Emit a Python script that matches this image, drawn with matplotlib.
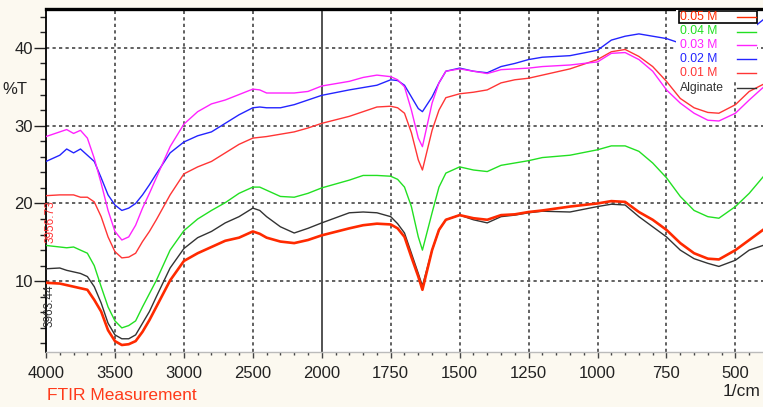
import numpy as np
import matplotlib

matplotlib.use("Agg")
import matplotlib.pyplot as plt
from matplotlib.lines import Line2D
from matplotlib.patches import Rectangle
from matplotlib.ticker import FixedLocator, MultipleLocator

plt.rcParams["font.family"] = ["Liberation Sans", "DejaVu Sans"]

# wavenumbers (1/cm)
wn = [4000, 3900, 3850, 3800, 3750, 3700, 3650, 3600, 3550, 3500, 3450,
      3400, 3350, 3300, 3250, 3200, 3100, 3000, 2900, 2800, 2700, 2600,
      2500, 2450, 2400, 2300, 2200, 2100, 2000, 1900, 1850, 1800, 1750,
      1725, 1700, 1675, 1650, 1635, 1600, 1575, 1550, 1500, 1450, 1400,
      1350, 1300, 1250, 1200, 1100, 1000, 950, 900, 850, 800, 750, 700,
      650, 600, 560, 500, 450, 400]

# %T for each sample
t_005 = [9.8, 9.7, 9.5, 9.3, 9.1, 8.9, 7.6, 6.1, 3.7, 2.3, 1.8,
         1.9, 2.3, 3.5, 5.0, 6.7, 10.1, 12.6, 13.6, 14.4, 15.2, 15.6,
         16.4, 16.1, 15.6, 15.1, 14.9, 15.3, 15.9, 16.8, 17.2, 17.4, 17.3,
         16.8, 15.7, 13.1, 10.6, 8.9, 14.0, 16.6, 17.9, 18.5, 18.1, 17.9,
         18.5, 18.6, 18.9, 19.1, 19.6, 20.0, 20.3, 20.2, 18.9, 17.9, 16.6, 14.9,
         13.6, 12.9, 12.8, 14.0, 15.3, 16.6]
t_004 = [14.6, 14.4, 14.3, 14.4, 14.0, 13.6, 12.0, 9.3, 6.7, 4.9, 4.0,
         4.3, 4.9, 6.7, 8.4, 10.1, 14.0, 16.5, 18.0, 19.1, 20.1, 21.3,
         22.1, 22.1, 21.7, 20.9, 20.8, 21.3, 22.0, 23.0, 23.6, 23.6, 23.5,
         23.1, 22.1, 19.6, 15.7, 14.0, 18.8, 22.1, 23.9, 24.7, 24.3, 24.1,
         24.9, 25.2, 25.5, 25.9, 26.2, 26.9, 27.4, 27.4, 26.7, 25.2, 23.3, 20.9,
         19.1, 18.3, 18.1, 19.6, 21.3, 23.4]
t_003 = [28.6, 29.2, 29.5, 29.0, 29.4, 28.4, 25.8, 22.6, 19.1, 16.4, 15.3,
         15.7, 17.2, 19.4, 21.3, 23.3, 27.3, 30.2, 31.8, 32.8, 33.3, 34.0,
         34.7, 34.6, 34.2, 34.2, 34.2, 34.4, 35.1, 35.7, 36.2, 36.5, 36.3,
         35.9, 35.0, 32.0, 28.4, 27.3, 32.9, 35.5, 37.0, 37.3, 37.0, 36.7,
         37.2, 37.3, 37.4, 37.6, 37.8, 38.2, 39.3, 39.4, 38.5, 37.0, 34.6, 32.9,
         31.6, 30.7, 30.6, 31.6, 33.3, 34.9]
t_002 = [25.4, 26.2, 27.0, 26.5, 27.0, 26.2, 25.4, 23.3, 21.1, 19.8, 19.1,
         19.4, 20.0, 21.1, 22.4, 23.8, 26.5, 27.9, 28.7, 29.2, 30.3, 31.4,
         32.3, 32.4, 32.3, 32.3, 32.7, 33.3, 33.9, 34.6, 34.9, 35.2, 35.9,
         35.8, 35.2, 33.7, 32.2, 31.8, 33.7, 35.5, 37.0, 37.4, 37.0, 36.8,
         37.6, 38.0, 38.5, 38.8, 39.0, 39.7, 41.0, 41.5, 41.8, 41.5, 41.2, 40.6,
         40.0, 39.7, 39.8, 40.8, 42.2, 43.6]
t_001 = [21.0, 21.1, 21.1, 21.1, 20.8, 20.8, 20.2, 18.3, 15.7, 13.8, 13.0,
         13.1, 13.6, 15.1, 16.4, 17.9, 21.1, 23.8, 24.7, 25.4, 26.5, 27.6,
         28.4, 28.5, 28.6, 28.9, 29.2, 29.7, 30.3, 31.2, 31.8, 32.4, 32.5,
         32.3, 31.6, 29.1, 25.6, 24.3, 29.4, 32.0, 33.6, 34.1, 34.3, 34.6,
         35.5, 35.9, 36.1, 36.5, 37.3, 38.5, 39.5, 39.8, 38.9, 37.6, 35.7, 33.5,
         32.3, 31.7, 31.6, 32.7, 34.4, 35.3]
t_alg = [11.6, 11.7, 11.4, 11.2, 11.0, 10.6, 9.3, 7.2, 4.6, 3.1, 2.6,
         2.6, 3.1, 4.6, 6.1, 8.0, 11.7, 14.2, 15.6, 16.4, 17.5, 18.3,
         19.4, 19.1, 18.3, 17.0, 16.2, 16.8, 17.5, 18.8, 18.9, 18.8, 18.3,
         17.4, 16.2, 13.6, 11.0, 9.4, 14.0, 16.6, 17.9, 18.5, 17.9, 17.5,
         18.3, 18.5, 18.8, 19.0, 18.9, 19.6, 19.9, 19.8, 18.3, 17.0, 15.7, 14.0,
         12.9, 12.3, 11.9, 12.7, 14.0, 14.6]

labels = ["0.05 M", "0.04 M", "0.03 M", "0.02 M", "0.01 M", "Alginate"]
colors = ["#ff2a00", "#22e022", "#ff22ff", "#2424ff", "#ff3535", "#333333"]
widths = [1.9, 1.0, 1.0, 1.0, 1.0, 1.0]
curves = [t_005, t_004, t_003, t_002, t_001, t_alg]

x_major = [4000, 3500, 3000, 2500, 2000, 1750, 1500, 1250, 1000, 750, 500]
y_major = [10, 20, 30, 40]


def forward(x):
    x = np.asarray(x, dtype=float)
    return np.where(x <= 2000, x, 2000 + (x - 2000) / 2.0)


def inverse(u):
    u = np.asarray(u, dtype=float)
    return np.where(u <= 2000, u, 2000 + (u - 2000) * 2.0)


fig = plt.figure(figsize=(7.63, 4.07), dpi=100, facecolor="#fcf9f0")
ax = fig.add_axes([46 / 763, 55 / 407, 717 / 763, 343 / 407])
ax.set_facecolor("white")
ax.set_xscale("function", functions=(forward, inverse))
ax.set_xlim(4000, 400)
ax.set_ylim(0.9, 45.0)

# curves, back to front
for values, color, lw in list(zip(curves, colors, widths))[::-1]:
    ax.plot(wn, values, color=color, lw=lw, zorder=3)

# grid
dash = (0, (1.8, 1.8))
for x in x_major[1:]:
    if x == 2000:
        ax.axvline(x, color="#444444", lw=1.3, zorder=1)
    else:
        ax.axvline(x, color="#555555", lw=1.3, ls=dash, zorder=1)
for y in y_major:
    ax.axhline(y, color="#555555", lw=1.3, ls=dash, zorder=1)

# ticks
x_minor = [x for x in range(3900, 2000, -100) if x % 500] + \
          [x for x in range(1950, 400, -50) if x % 250]
ax.xaxis.set_major_locator(FixedLocator(x_major))
ax.xaxis.set_minor_locator(FixedLocator(x_minor))
ax.xaxis.set_major_formatter(matplotlib.ticker.FuncFormatter(lambda v, p: f"{v:.0f}"))
ax.yaxis.set_major_locator(FixedLocator(y_major))
ax.yaxis.set_minor_locator(MultipleLocator(2))
ax.tick_params(axis="x", which="major", length=4, width=1, color="#444444",
               pad=6, labelsize=12, labelcolor="#222222")
ax.tick_params(axis="x", which="minor", length=2.5, width=1, color="#444444")
ax.tick_params(axis="y", which="major", length=8.5, width=1, color="#222222",
               pad=1, labelsize=12, labelcolor="#222222")
ax.tick_params(axis="y", which="minor", length=4.5, width=1, color="#222222")

ax.spines["right"].set_visible(False)
ax.spines["top"].set_linewidth(2.4)
ax.spines["top"].set_color("black")
ax.spines["left"].set_linewidth(1.3)
ax.spines["left"].set_color("black")
ax.spines["bottom"].set_linewidth(1.0)
ax.spines["bottom"].set_color("#bbbbbb")

# cursor readouts at the left edge
fig.text(51 / 763, 1 - 222 / 407, "3956.73", rotation=90, color="#ff3535",
         fontsize=8.5, ha="center", va="center")
fig.text(50 / 763, 1 - 306 / 407, "3963.44", rotation=90, color="#333333",
         fontsize=8.5, ha="center", va="center")

# axis captions
fig.text(15 / 763, 1 - 90 / 407, "%T", fontsize=12, color="#222222",
         ha="center", va="center")
fig.text(47 / 763, 1 - 395 / 407, "FTIR Measurement", fontsize=12.5,
         color="#ff3a1a", ha="left", va="center")
fig.text(761 / 763, 1 - 392 / 407, "1/cm", fontsize=12.5, color="#222222",
         ha="right", va="center")


def ax_x(px):
    return (px - 46) / 717


def ax_y(py):
    return (352 - py) / 343


# legend, drawn by hand so the keys line up on the right
ax.add_patch(Rectangle((ax_x(676), ax_y(80)), ax_x(757) - ax_x(676),
                       ax_y(10) - ax_y(80), transform=ax.transAxes,
                       facecolor="white", edgecolor="none", zorder=5))
ax.add_patch(Rectangle((ax_x(679), ax_y(23)), ax_x(757) - ax_x(679),
                       ax_y(11) - ax_y(23), transform=ax.transAxes,
                       facecolor="none", edgecolor="black", lw=1.2, zorder=6))
rows = [16.5, 31.5, 45, 59, 73, 87.5]
for label, color, py in zip(labels, colors, rows):
    ax.text(ax_x(680), ax_y(py), label, transform=ax.transAxes,
            color=color, fontsize=8.7, ha="left", va="center", zorder=7)
    ax.add_line(Line2D([ax_x(737), ax_x(756)], [ax_y(py), ax_y(py)],
                       transform=ax.transAxes, color=color, lw=1.0, zorder=7))

fig.savefig("out.png", dpi=100, facecolor=fig.get_facecolor())
